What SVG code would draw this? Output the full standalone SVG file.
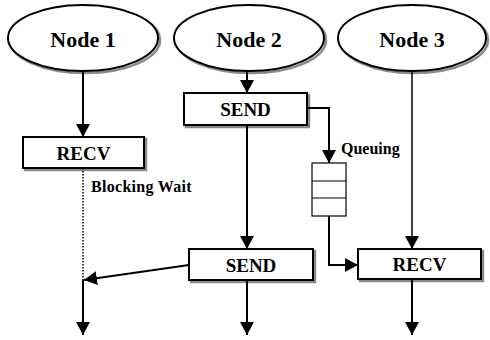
<svg xmlns="http://www.w3.org/2000/svg" width="490" height="340" viewBox="0 0 490 340">
  <style>
    .node { fill: #ffffff; stroke: #000000; stroke-width: 2; }
    .shadow { fill: none; stroke: #8a8a8a; stroke-width: 2.5; }
    .box { fill: #ffffff; stroke: #000000; stroke-width: 2; }
    .label { font-family: "Liberation Serif", "Times New Roman", serif; font-weight: bold; fill: #000000; text-anchor: middle; }
    .big { font-size: 22px; }
    .op { font-size: 19px; }
    .note { font-family: "Liberation Serif", "Times New Roman", serif; font-weight: bold; font-size: 16px; fill: #000000; }
    .wire { fill: none; stroke: #000000; stroke-width: 2; }
    .thin { fill: none; stroke: #000000; stroke-width: 1.5; }
    .wait { fill: none; stroke: #000000; stroke-width: 1.5; stroke-dasharray: 1.5 1.5; }
    .queue { fill: #ffffff; stroke: #000000; stroke-width: 1.2; }
  </style>
  <defs>
    <marker id="head" markerUnits="userSpaceOnUse" markerWidth="14" markerHeight="14" refX="13" refY="7" orient="auto" viewBox="0 0 14 14">
      <path d="M0,0 L13,7 L0,14 Z" fill="#000000"/>
    </marker>
  </defs>

  <rect width="490" height="340" fill="#ffffff"/>

  <!-- process ellipses -->
  <g id="node1">
    <ellipse class="shadow" cx="85" cy="40" rx="75" ry="33"/>
    <ellipse class="node" cx="83" cy="38" rx="75" ry="33"/>
    <text class="label big" x="83" y="47">Node 1</text>
  </g>
  <g id="node2">
    <ellipse class="shadow" cx="251" cy="40" rx="75" ry="33"/>
    <ellipse class="node" cx="249" cy="38" rx="75" ry="33"/>
    <text class="label big" x="249" y="47">Node 2</text>
  </g>
  <g id="node3">
    <ellipse class="shadow" cx="414" cy="40" rx="74" ry="33"/>
    <ellipse class="node" cx="412" cy="38" rx="74" ry="33"/>
    <text class="label big" x="412" y="47">Node 3</text>
  </g>

  <!-- operation boxes -->
  <g id="recv1">
    <rect class="shadow" x="25" y="139" width="121" height="31"/>
    <rect class="box" x="23" y="137" width="121" height="31"/>
    <text class="label op" x="83.5" y="160">RECV</text>
  </g>
  <g id="send1">
    <rect class="shadow" x="186" y="95" width="123" height="32"/>
    <rect class="box" x="184" y="93" width="123" height="32"/>
    <text class="label op" x="245.5" y="116">SEND</text>
  </g>
  <g id="send2">
    <rect class="shadow" x="191" y="251" width="124" height="31"/>
    <rect class="box" x="189" y="249" width="124" height="31"/>
    <text class="label op" x="251" y="272">SEND</text>
  </g>
  <g id="recv3">
    <rect class="shadow" x="360" y="251" width="123" height="30"/>
    <rect class="box" x="358" y="249" width="123" height="30"/>
    <text class="label op" x="419.5" y="271">RECV</text>
  </g>

  <!-- message queue -->
  <g id="queue">
    <rect class="queue" x="312" y="163" width="34" height="53"/>
    <line class="queue" x1="312" y1="181" x2="346" y2="181"/>
    <line class="queue" x1="312" y1="198" x2="346" y2="198"/>
  </g>

  <!-- connectors -->
  <g id="connectors">
    <path class="wire" d="M83,71 V137" marker-end="url(#head)"/>
    <path class="wait" d="M83,168 V280"/>
    <path class="wire" d="M83,280 V335" marker-end="url(#head)"/>

    <path class="wire" d="M247,71 V93" marker-end="url(#head)"/>
    <path class="wire" d="M247,125 V249" marker-end="url(#head)"/>
    <path class="wire" d="M247,280 V335" marker-end="url(#head)"/>
    <path class="wire" d="M307,108 H329 V163" marker-end="url(#head)"/>
    <path class="wire" d="M189,265 L84,280" marker-end="url(#head)"/>

    <path class="wire" d="M329,216 V265 H358" marker-end="url(#head)"/>
    <path class="thin" d="M412,71 V249" marker-end="url(#head)"/>
    <path class="wire" d="M412,279 V335" marker-end="url(#head)"/>
  </g>

  <!-- annotations -->
  <text class="note" x="91" y="192" letter-spacing="0.3">Blocking Wait</text>
  <text class="note" x="341" y="154">Queuing</text>
</svg>
